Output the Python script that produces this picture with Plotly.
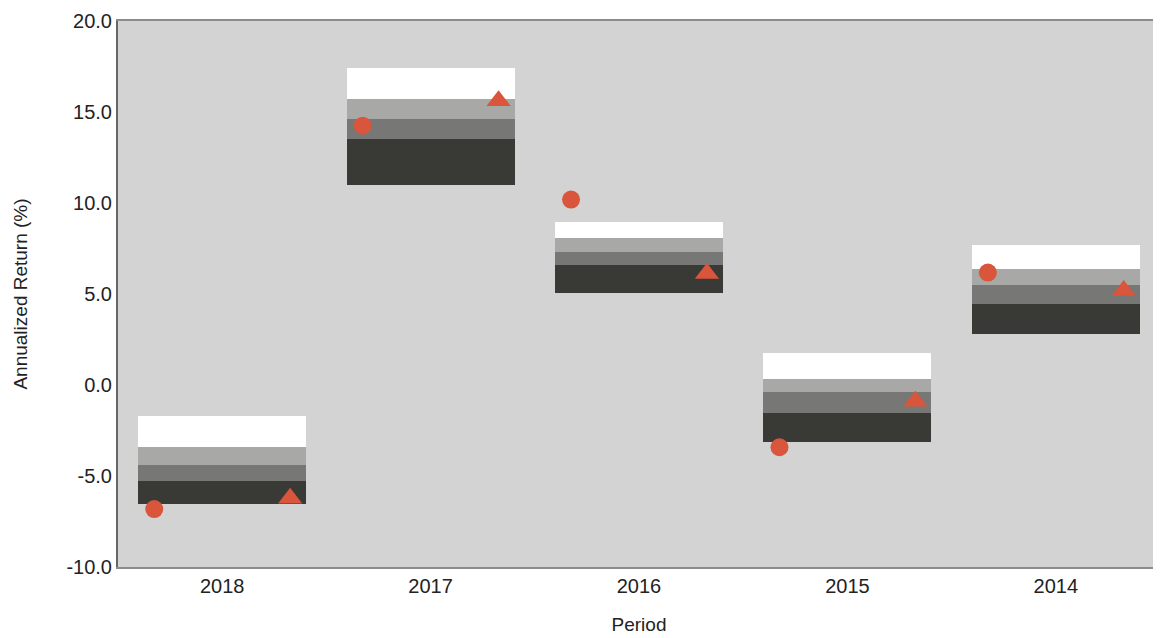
import plotly.graph_objects as go

periods = ["2018", "2017", "2016", "2015", "2014"]
# band boundaries (%): bottom, 25th..., top
band_bottom = [-6.54, 11.01, 5.03, -3.15, 2.78]
band_p1 = [-5.28, 13.53, 6.57, -1.55, 4.43]
band_p2 = [-4.40, 14.63, 7.33, -0.40, 5.47]
band_p3 = [-3.42, 15.73, 8.10, 0.31, 6.35]
band_top = [-1.72, 17.43, 8.97, 1.74, 7.72]
circle_vals = [-6.82, 14.25, 10.19, -3.42, 6.18]
triangle_vals = [-6.22, 15.62, 6.13, -0.89, 5.19]

x = list(range(len(periods)))
bw = 0.806
off = 0.326

fig = go.Figure()
segments = [
    (band_bottom, band_p1, "#393a36"),
    (band_p1, band_p2, "#777876"),
    (band_p2, band_p3, "#a8a8a7"),
    (band_p3, band_top, "#ffffff"),
]
for lo, hi, col in segments:
    fig.add_trace(go.Bar(
        x=x, y=[h - l for l, h in zip(lo, hi)], base=lo, width=bw,
        marker=dict(color=col, line=dict(width=0)), showlegend=False,
        hoverinfo="skip"))

fig.add_trace(go.Scatter(
    x=[i - off for i in x], y=circle_vals, mode="markers",
    marker=dict(symbol="circle", size=18, color="#d9553c"), showlegend=False))
fig.add_trace(go.Scatter(
    x=[i + off for i in x], y=triangle_vals, mode="markers",
    marker=dict(symbol="triangle-up", size=21, color="#d9553c"), showlegend=False))

fig.update_layout(
    width=1153, height=630,
    margin=dict(l=110, r=1, t=13, b=71, autoexpand=False),
    paper_bgcolor="white", plot_bgcolor="#d3d3d3",
    barmode="overlay", bargap=0,
    font=dict(family="Liberation Sans, Arial, sans-serif", color="#222222"),
)
fig.update_xaxes(
    range=[-0.5, 4.5], tickvals=x, ticktext=periods,
    showgrid=False, zeroline=False, showline=True, linecolor="#8c8c8c",
    linewidth=2, mirror=True, tickfont=dict(size=20), automargin=False,
    title=dict(text="Period", font=dict(size=19), standoff=22),
)
fig.update_yaxes(
    range=[-10, 20], tickvals=[-10, -5, 0, 5, 10, 15, 20],
    ticktext=["-10.0", "-5.0", "0.0", "5.0", "10.0", "15.0", "20.0"],
    showgrid=False, zeroline=False, showline=True, linecolor="#666666",
    linewidth=2, tickfont=dict(size=20), automargin=False,
    title=dict(text="Annualized Return (%)", font=dict(size=19), standoff=34),
)

fig.write_html("out.html")
